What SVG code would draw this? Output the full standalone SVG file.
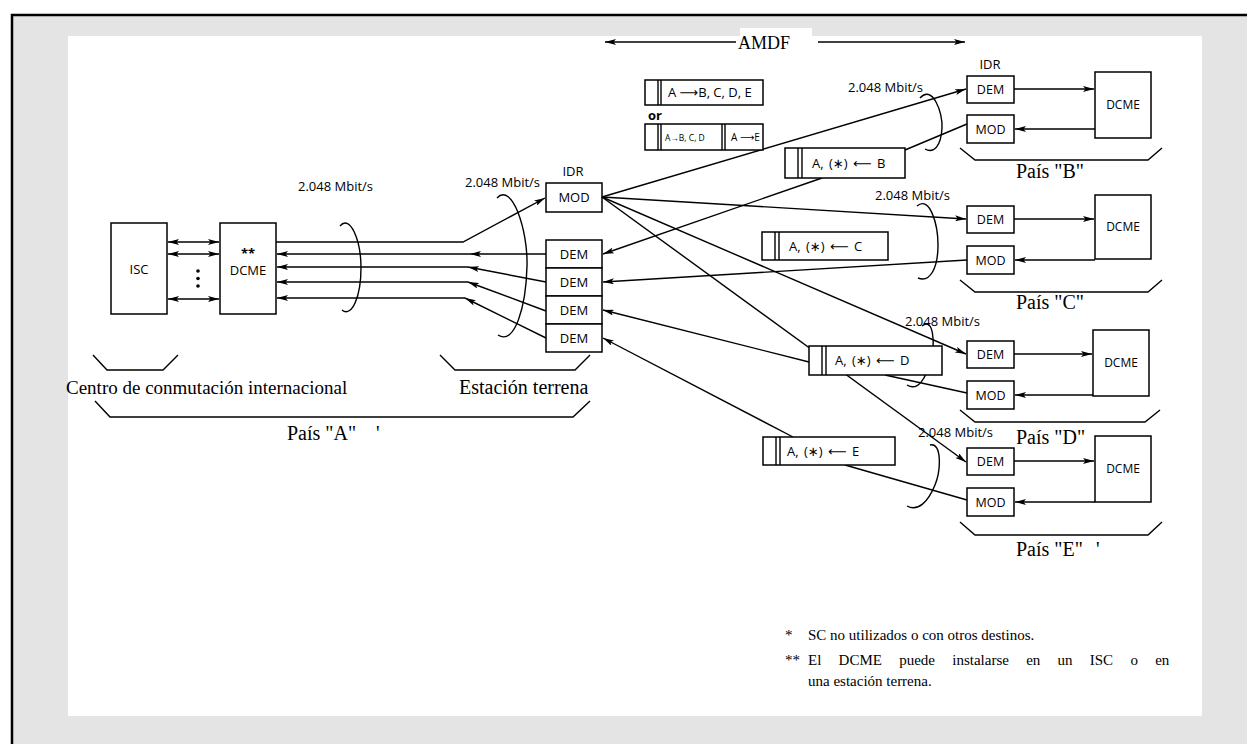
<svg xmlns="http://www.w3.org/2000/svg" width="1247" height="744" viewBox="0 0 1247 744">
  <defs>
    <marker id="ah" viewBox="0 0 11 6" refX="11" refY="3" markerWidth="11" markerHeight="6" markerUnits="userSpaceOnUse" orient="auto-start-reverse">
      <path d="M0,0 L11,3 L0,6 L2.5,3 Z" fill="#000"/>
    </marker>
  </defs>
  <style>
    .box { fill: #fff; stroke: #000; stroke-width: 1.5; }
    .ln { fill: none; stroke: #000; stroke-width: 1.4; }
    .arr { fill: none; stroke: #000; stroke-width: 1.4; marker-end: url(#ah); }
    .dbl { fill: none; stroke: #000; stroke-width: 1.4; marker-start: url(#ah); marker-end: url(#ah); }
    .s { font-family: "Open Sans", "Liberation Sans", "DejaVu Sans", sans-serif; font-size: 13px; fill: #000; }
    .sm { font-family: "Open Sans", "Liberation Sans", "DejaVu Sans", sans-serif; font-size: 8.5px; fill: #000; }
    .c { text-anchor: middle; }
    .t { font-family: "Liberation Serif", "Times New Roman", serif; font-size: 20px; fill: #000; }
    .n { font-family: "Liberation Serif", "Times New Roman", serif; font-size: 15px; fill: #000; }
  </style>

  <!-- page background and frame -->
  <rect x="0" y="0" width="1247" height="744" fill="#fff"/>
  <rect x="12" y="15" width="1250" height="740" fill="#e4e4e4" stroke="#000" stroke-width="2.5"/>
  <rect x="68" y="36" width="1134" height="680" fill="#fff"/>
  <rect x="740" y="28" width="72" height="9" fill="#fff"/>

  <!-- AMDF span -->
  <g id="amdf">
    <path class="arr" d="M736,42 H605"/>
    <path class="arr" d="M818,42 H965"/>
    <text class="t" x="738" y="49" style="font-size:18px">AMDF</text>
  </g>

  <!-- country A: switching centre -->
  <g id="isc">
    <rect class="box" x="111" y="223" width="56" height="91"/>
    <text class="s c" x="139" y="274">ISC</text>
  </g>
  <g id="dcme-a">
    <rect class="box" x="220" y="223" width="56" height="91"/>
    <text class="s c" x="248" y="258" style="font-weight:bold">**</text>
    <text class="s c" x="248" y="275">DCME</text>
  </g>

  <!-- country A: earth station -->
  <g id="idr-a">
    <text class="s c" x="573" y="176">IDR</text>
    <rect class="box" x="546" y="183" width="56" height="29"/>
    <text class="s c" x="574" y="202">MOD</text>
    <rect class="box" x="546" y="240" width="56" height="28"/>
    <text class="s c" x="574" y="259">DEM</text>
    <rect class="box" x="546" y="268" width="56" height="28"/>
    <text class="s c" x="574" y="287">DEM</text>
    <rect class="box" x="546" y="296" width="56" height="28"/>
    <text class="s c" x="574" y="315">DEM</text>
    <rect class="box" x="546" y="324" width="56" height="28"/>
    <text class="s c" x="574" y="343">DEM</text>
  </g>

  <!-- countries B to E -->
  <g id="pais-b">
    <text class="s c" x="990" y="69">IDR</text>
    <rect class="box" x="967" y="76" width="47" height="27"/>
    <text class="s c" x="990.5" y="94" style="font-size:12.5px">DEM</text>
    <rect class="box" x="967" y="115" width="47" height="28"/>
    <text class="s c" x="990.5" y="134" style="font-size:12.5px">MOD</text>
    <rect class="box" x="1095" y="72" width="56" height="66"/>
    <text class="s c" x="1123" y="109" style="font-size:12px">DCME</text>
  </g>
  <g id="pais-c">
    <rect class="box" x="967" y="206" width="47" height="27"/>
    <text class="s c" x="990.5" y="224" style="font-size:12.5px">DEM</text>
    <rect class="box" x="967" y="246" width="47" height="28"/>
    <text class="s c" x="990.5" y="265" style="font-size:12.5px">MOD</text>
    <rect class="box" x="1095" y="195" width="56" height="64"/>
    <text class="s c" x="1123" y="231" style="font-size:12px">DCME</text>
  </g>
  <g id="pais-d">
    <rect class="box" x="967" y="341" width="47" height="27"/>
    <text class="s c" x="990.5" y="359" style="font-size:12.5px">DEM</text>
    <rect class="box" x="967" y="381" width="47" height="28"/>
    <text class="s c" x="990.5" y="400" style="font-size:12.5px">MOD</text>
    <rect class="box" x="1093" y="330" width="56" height="66"/>
    <text class="s c" x="1121" y="367" style="font-size:12px">DCME</text>
  </g>
  <g id="pais-e">
    <rect class="box" x="967" y="448" width="47" height="27"/>
    <text class="s c" x="990.5" y="466" style="font-size:12.5px">DEM</text>
    <rect class="box" x="967" y="488" width="47" height="28"/>
    <text class="s c" x="990.5" y="507" style="font-size:12.5px">MOD</text>
    <rect class="box" x="1095" y="436" width="56" height="66"/>
    <text class="s c" x="1123" y="473" style="font-size:12px">DCME</text>
  </g>

  <!-- connectors -->
  <g id="connectors">
    <!-- ISC to DCME -->
    <path class="dbl" d="M168,242 H219"/>
    <path class="dbl" d="M168,254 H219"/>
    <path class="dbl" d="M168,299 H219"/>
    <circle cx="198" cy="271" r="1.8"/>
    <circle cx="198" cy="278.5" r="1.8"/>
    <circle cx="198" cy="286" r="1.8"/>

    <!-- DCME to earth station -->
    <path class="arr" d="M276,242 H463 L545,198"/>
    <path class="arr" d="M546,254 H470"/>
    <path class="arr" d="M470,254 H277"/>
    <path class="arr" d="M546,282 L468,267"/>
    <path class="arr" d="M468,267 H277"/>
    <path class="arr" d="M546,311 L468,282"/>
    <path class="arr" d="M468,282 H277"/>
    <path class="arr" d="M546,338 L465,298"/>
    <path class="arr" d="M465,298 H277"/>

    <!-- outgoing carrier from MOD to every DEM -->
    <path class="arr" d="M602,197 L966,89"/>
    <path class="arr" d="M602,197 L966,219"/>
    <path class="arr" d="M602,197 L966,354"/>
    <path class="arr" d="M602,197 L966,462"/>

    <!-- return carriers -->
    <path class="ln" d="M967,124 L905,150"/>
    <path class="arr" d="M822,178 L603,254"/>
    <path class="arr" d="M967,260 L603,282"/>
    <path class="ln" d="M967,393 L885,375"/>
    <path class="arr" d="M809,362 L603,310"/>
    <path class="ln" d="M967,500 L845,465"/>
    <path class="arr" d="M793,437 L603,338"/>

    <!-- far-end DEM/MOD to DCME -->
    <path class="arr" d="M1014,89 H1094"/>
    <path class="arr" d="M1095,129 H1015"/>
    <path class="arr" d="M1014,219 H1094"/>
    <path class="arr" d="M1095,260 H1015"/>
    <path class="arr" d="M1014,354 H1092"/>
    <path class="arr" d="M1093,395 H1015"/>
    <path class="arr" d="M1014,461 H1094"/>
    <path class="arr" d="M1095,502 H1015"/>
  </g>

  <!-- 2.048 Mbit/s bundle rings -->
  <g id="rings">
    <path class="ln" d="M340,226 C350,214 361,240 361,268 C361,296 352,318 342,310"/>
    <text class="s" x="298" y="191">2.048 Mbit/s</text>
    <path class="ln" d="M497,198 C512,182 528,230 527,266 C526,306 515,346 498,335"/>
    <text class="s" x="465" y="187">2.048 Mbit/s</text>
    <path class="ln" d="M920,98 C932,84 943,112 942,128 C941,146 934,154 925,149"/>
    <text class="s" x="848" y="92">2.048 Mbit/s</text>
    <path class="ln" d="M917,206 C930,195 938,225 938,245 C938,268 930,283 918,278"/>
    <text class="s" x="875" y="200">2.048 Mbit/s</text>
    <path class="ln" d="M922,326 C934,316 935,345 931,360 C926,378 918,392 907,385"/>
    <text class="s" x="905" y="326">2.048 Mbit/s</text>
    <path class="ln" d="M930,445 C942,442 941,470 935,485 C928,502 918,512 907,506"/>
    <text class="s" x="918" y="437">2.048 Mbit/s</text>
  </g>

  <!-- frame formats -->
  <g id="frame-broadcast">
    <rect class="box" x="645" y="80" width="118" height="25"/>
    <path class="ln" d="M658,80 V105 M661,80 V105"/>
    <text class="s" x="668" y="97">A ⟶B, C, D, E</text>
    <text class="s" x="648" y="120" style="font-weight:bold">or</text>
    <rect class="box" x="645" y="124" width="118" height="26"/>
    <path class="ln" d="M658,124 V150 M661,124 V150 M722,124 V150 M725,124 V150"/>
    <text class="sm" x="665" y="141">A→B, C, D</text>
    <text class="s" x="731" y="141" style="font-size:10px">A ⟶E</text>
  </g>
  <g id="frame-b">
    <rect class="box" x="785" y="148" width="120" height="30"/>
    <path class="ln" d="M798,148 V178 M802,148 V178"/>
    <text class="s" x="812" y="168" style="word-spacing:2px">A, (∗) ⟵ B</text>
  </g>
  <g id="frame-c">
    <rect class="box" x="762" y="232" width="126" height="28"/>
    <path class="ln" d="M775,232 V260 M779,232 V260"/>
    <text class="s" x="789" y="251" style="word-spacing:2px">A, (∗) ⟵ C</text>
  </g>
  <g id="frame-d">
    <rect class="box" x="809" y="346" width="133" height="29"/>
    <path class="ln" d="M822,346 V375 M826,346 V375"/>
    <text class="s" x="835" y="365" style="word-spacing:2px">A, (∗) ⟵ D</text>
  </g>
  <g id="frame-e">
    <rect class="box" x="763" y="437" width="132" height="28"/>
    <path class="ln" d="M776,437 V465 M780,437 V465"/>
    <text class="s" x="787" y="456" style="word-spacing:2px">A, (∗) ⟵ E</text>
  </g>

  <!-- grouping braces and captions -->
  <g id="captions">
    <path class="ln" d="M93,355 L107,370 H163 L178,355"/>
    <text class="t" x="66" y="394" style="font-size:19px">Centro de conmutación internacional</text>
    <path class="ln" d="M440,355 L455,370 H575 L590,355"/>
    <text class="t" x="459" y="394">Estación terrena</text>
    <path class="ln" d="M95,401 L110,417 H573 L590,401"/>
    <text class="t" x="287" y="440">País "A"</text>
    <text class="t" x="376" y="440">'</text>
    <path class="ln" d="M960,148 L975,160 H1148 L1162,148"/>
    <text class="t" x="1016" y="178">País "B"</text>
    <path class="ln" d="M960,280 L975,292 H1148 L1162,280"/>
    <text class="t" x="1016" y="309">País "C"</text>
    <path class="ln" d="M960,410 L975,422 H1145 L1160,410"/>
    <text class="t" x="1016" y="444">País "D"</text>
    <path class="ln" d="M960,522 L975,535 H1148 L1162,522"/>
    <text class="t" x="1016" y="556">País "E"</text>
    <text class="t" x="1096" y="556">'</text>
  </g>

  <!-- notes -->
  <g id="notes">
    <text class="n" x="785" y="640">*</text>
    <text class="n" x="808" y="640">SC no utilizados o con otros destinos.</text>
    <text class="n" x="785" y="665">**</text>
    <text class="n" x="808" y="665" style="word-spacing:13.5px">El DCME puede instalarse en un ISC o en</text>
    <text class="n" x="808" y="686">una estación terrena.</text>
  </g>
</svg>
